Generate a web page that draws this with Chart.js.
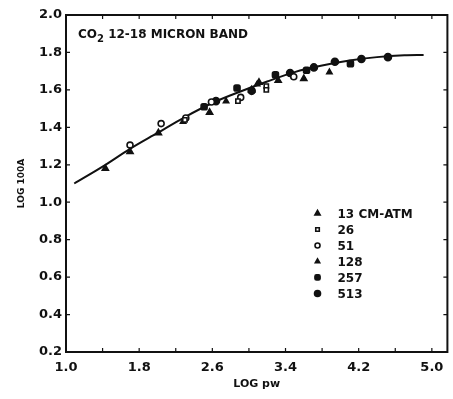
<!DOCTYPE html>
<html lang="en">
  <head>
    <meta charset="UTF-8" />
    <title>CO2 12-18 micron band</title>
    <script src="https://cdn.jsdelivr.net/npm/chart.js@4.4.1/dist/chart.umd.min.js"></script>
    <style>
      body { margin: 0; background: #fff; }
    </style>
  </head>
  <body>
    <canvas id="myChart" width="453" height="399"></canvas>

    <script>
    // values (x = LOG pw, y = LOG 100A)
    const curveX = [1.09, 1.4, 1.7, 2.0, 2.3, 2.6, 2.9, 3.2, 3.5, 3.8, 4.1, 4.4, 4.7, 4.91];
    const curveY = [1.10, 1.19, 1.285, 1.37, 1.455, 1.53, 1.59, 1.645, 1.695, 1.73, 1.757, 1.775, 1.785, 1.787];

    const p13X = [1.43, 1.70, 2.01, 2.57, 3.03, 3.11, 3.32, 3.60];
    const p13Y = [1.18, 1.27, 1.37, 1.48, 1.60, 1.64, 1.65, 1.66];
    const p26X = [2.30, 2.88, 3.19, 3.19];
    const p26Y = [1.44, 1.54, 1.62, 1.60];
    const p51X = [1.70, 2.04, 2.31, 2.59, 2.91, 3.49];
    const p51Y = [1.305, 1.42, 1.45, 1.535, 1.56, 1.67];
    const p128X = [2.28, 2.75, 3.09, 3.88];
    const p128Y = [1.43, 1.54, 1.63, 1.695];
    const p257X = [2.51, 2.87, 3.29, 3.63, 4.11];
    const p257Y = [1.51, 1.61, 1.68, 1.705, 1.74];
    const p513X = [2.64, 3.03, 3.45, 3.71, 3.94, 4.23, 4.52];
    const p513Y = [1.54, 1.595, 1.69, 1.72, 1.75, 1.765, 1.775];

    const xTicks = [1.0, 1.4, 1.8, 2.2, 2.6, 3.0, 3.4, 3.8, 4.2, 4.6, 5.0];
    const xTickLabels = ['1.0', '1.8', '2.6', '3.4', '4.2', '5.0'];
    const yTicks = [0.2, 0.4, 0.6, 0.8, 1.0, 1.2, 1.4, 1.6, 1.8, 2.0];

    const FONT = '"DejaVu Sans", Verdana, sans-serif';
    const INK = '#111';

    function pts(xs, ys) {
      return xs.map((x, i) => ({ x: x, y: ys[i] }));
    }

    const series = [
      { label: '13 CM-ATM', data: pts(p13X, p13Y), pointStyle: 'triangle', radius: 3.5, fill: INK },
      { label: '26', data: pts(p26X, p26Y), pointStyle: 'rect', radius: 3, fill: '#fff' },
      { label: '51', data: pts(p51X, p51Y), pointStyle: 'circle', radius: 3, fill: '#fff' },
      { label: '128', data: pts(p128X, p128Y), pointStyle: 'triangle', radius: 3, fill: INK },
      { label: '257', data: pts(p257X, p257Y), pointStyle: 'rectRounded', radius: 3.5, fill: INK },
      { label: '513', data: pts(p513X, p513Y), pointStyle: 'circle', radius: 3.5, fill: INK }
    ];

    const datasets = [{
      type: 'line',
      label: 'fit',
      data: pts(curveX, curveY),
      borderColor: INK,
      borderWidth: 2,
      pointRadius: 0,
      cubicInterpolationMode: 'monotone',
      fill: false,
      order: 10
    }];
    series.forEach(s => {
      datasets.push({
        type: 'scatter',
        label: s.label,
        data: s.data,
        pointStyle: s.pointStyle,
        pointRadius: s.radius,
        pointBackgroundColor: s.fill,
        pointBorderColor: INK,
        pointBorderWidth: 1.6,
        order: 1
      });
    });

    // frame, inner ticks, title and legend
    const decor = {
      id: 'decor',
      afterDraw(chart) {
        const ctx = chart.ctx;
        const a = chart.chartArea;
        const xs = chart.scales.x, ys = chart.scales.y;
        ctx.save();
        ctx.strokeStyle = INK;
        ctx.lineWidth = 2;
        ctx.strokeRect(a.left, a.top, a.right - a.left, a.bottom - a.top);
        ctx.lineWidth = 1.2;
        xTicks.forEach(v => {
          const px = xs.getPixelForValue(v);
          ctx.beginPath();
          ctx.moveTo(px, a.bottom); ctx.lineTo(px, a.bottom - 4);
          ctx.moveTo(px, a.top); ctx.lineTo(px, a.top + 4);
          ctx.stroke();
        });
        yTicks.forEach(v => {
          const py = ys.getPixelForValue(v);
          ctx.beginPath();
          ctx.moveTo(a.left, py); ctx.lineTo(a.left + 4, py);
          ctx.moveTo(a.right, py); ctx.lineTo(a.right - 4, py);
          ctx.stroke();
        });

        // title
        ctx.fillStyle = INK;
        ctx.textBaseline = 'alphabetic';
        ctx.font = 'bold 12px ' + FONT;
        let tx = a.left + 12, ty = a.top + 23;
        ctx.fillText('CO', tx, ty);
        tx += ctx.measureText('CO').width;
        ctx.font = 'bold 10px ' + FONT;
        ctx.fillText('2', tx, ty + 4);
        tx += ctx.measureText('2').width;
        ctx.font = 'bold 12px ' + FONT;
        ctx.fillText(' 12-18 MICRON BAND', tx, ty);

        // legend
        const lx = xs.getPixelForValue(3.75);
        let ly = ys.getPixelForValue(0.94);
        ctx.textBaseline = 'middle';
        series.forEach(s => {
          ctx.fillStyle = s.fill;
          ctx.strokeStyle = INK;
          ctx.lineWidth = 1.6;
          Chart.helpers.drawPoint(ctx, { pointStyle: s.pointStyle, radius: s.radius - 0.5, borderWidth: 1.6, rotation: 0 }, lx, ly);
          ctx.fillStyle = INK;
          ctx.font = 'bold 12px ' + FONT;
          ctx.fillText(s.label, lx + 20, ly + 1);
          ly += 16;
        });
        ctx.restore();
      }
    };

    const ctx = document.getElementById('myChart').getContext('2d');
    const myChart = new Chart(ctx, {
      type: 'scatter',
      data: { datasets: datasets },
      options: {
        responsive: false,
        animation: false,
        layout: { padding: { top: 15, right: 1, left: 0, bottom: 0 } },
        plugins: { legend: { display: false }, tooltip: { enabled: false } },
        scales: {
          x: {
            type: 'linear',
            min: 1.0,
            max: 5.17,
            afterBuildTicks: s => { s.ticks = xTicks.map(v => ({ value: v })); },
            afterFit: s => { s.height = 47; },
            grid: { display: false, drawTicks: false },
            border: { display: false },
            ticks: {
              color: INK,
              padding: 8,
              maxRotation: 0,
              autoSkip: false,
              font: { family: FONT, size: 13, weight: 'bold' },
              callback: v => {
                const t = v.toFixed(1);
                return xTickLabels.includes(t) ? t : '';
              }
            },
            title: {
              display: true,
              text: 'LOG pw',
              color: INK,
              font: { family: FONT, size: 11, weight: 'bold' },
              padding: { top: 0, bottom: 8 }
            }
          },
          y: {
            min: 0.2,
            max: 2.0,
            afterBuildTicks: s => { s.ticks = yTicks.map(v => ({ value: v })); },
            afterFit: s => { s.width = 66; },
            grid: { display: false, drawTicks: false },
            border: { display: false },
            ticks: {
              color: INK,
              padding: 4,
              autoSkip: false,
              font: { family: FONT, size: 13, weight: 'bold' },
              callback: v => v.toFixed(1)
            },
            title: {
              display: true,
              text: 'LOG 100A',
              color: INK,
              font: { family: FONT, size: 9, weight: 'bold' },
              padding: { top: 16, bottom: 0 }
            }
          }
        }
      },
      plugins: [decor]
    });
    </script>
  </body>
</html>
